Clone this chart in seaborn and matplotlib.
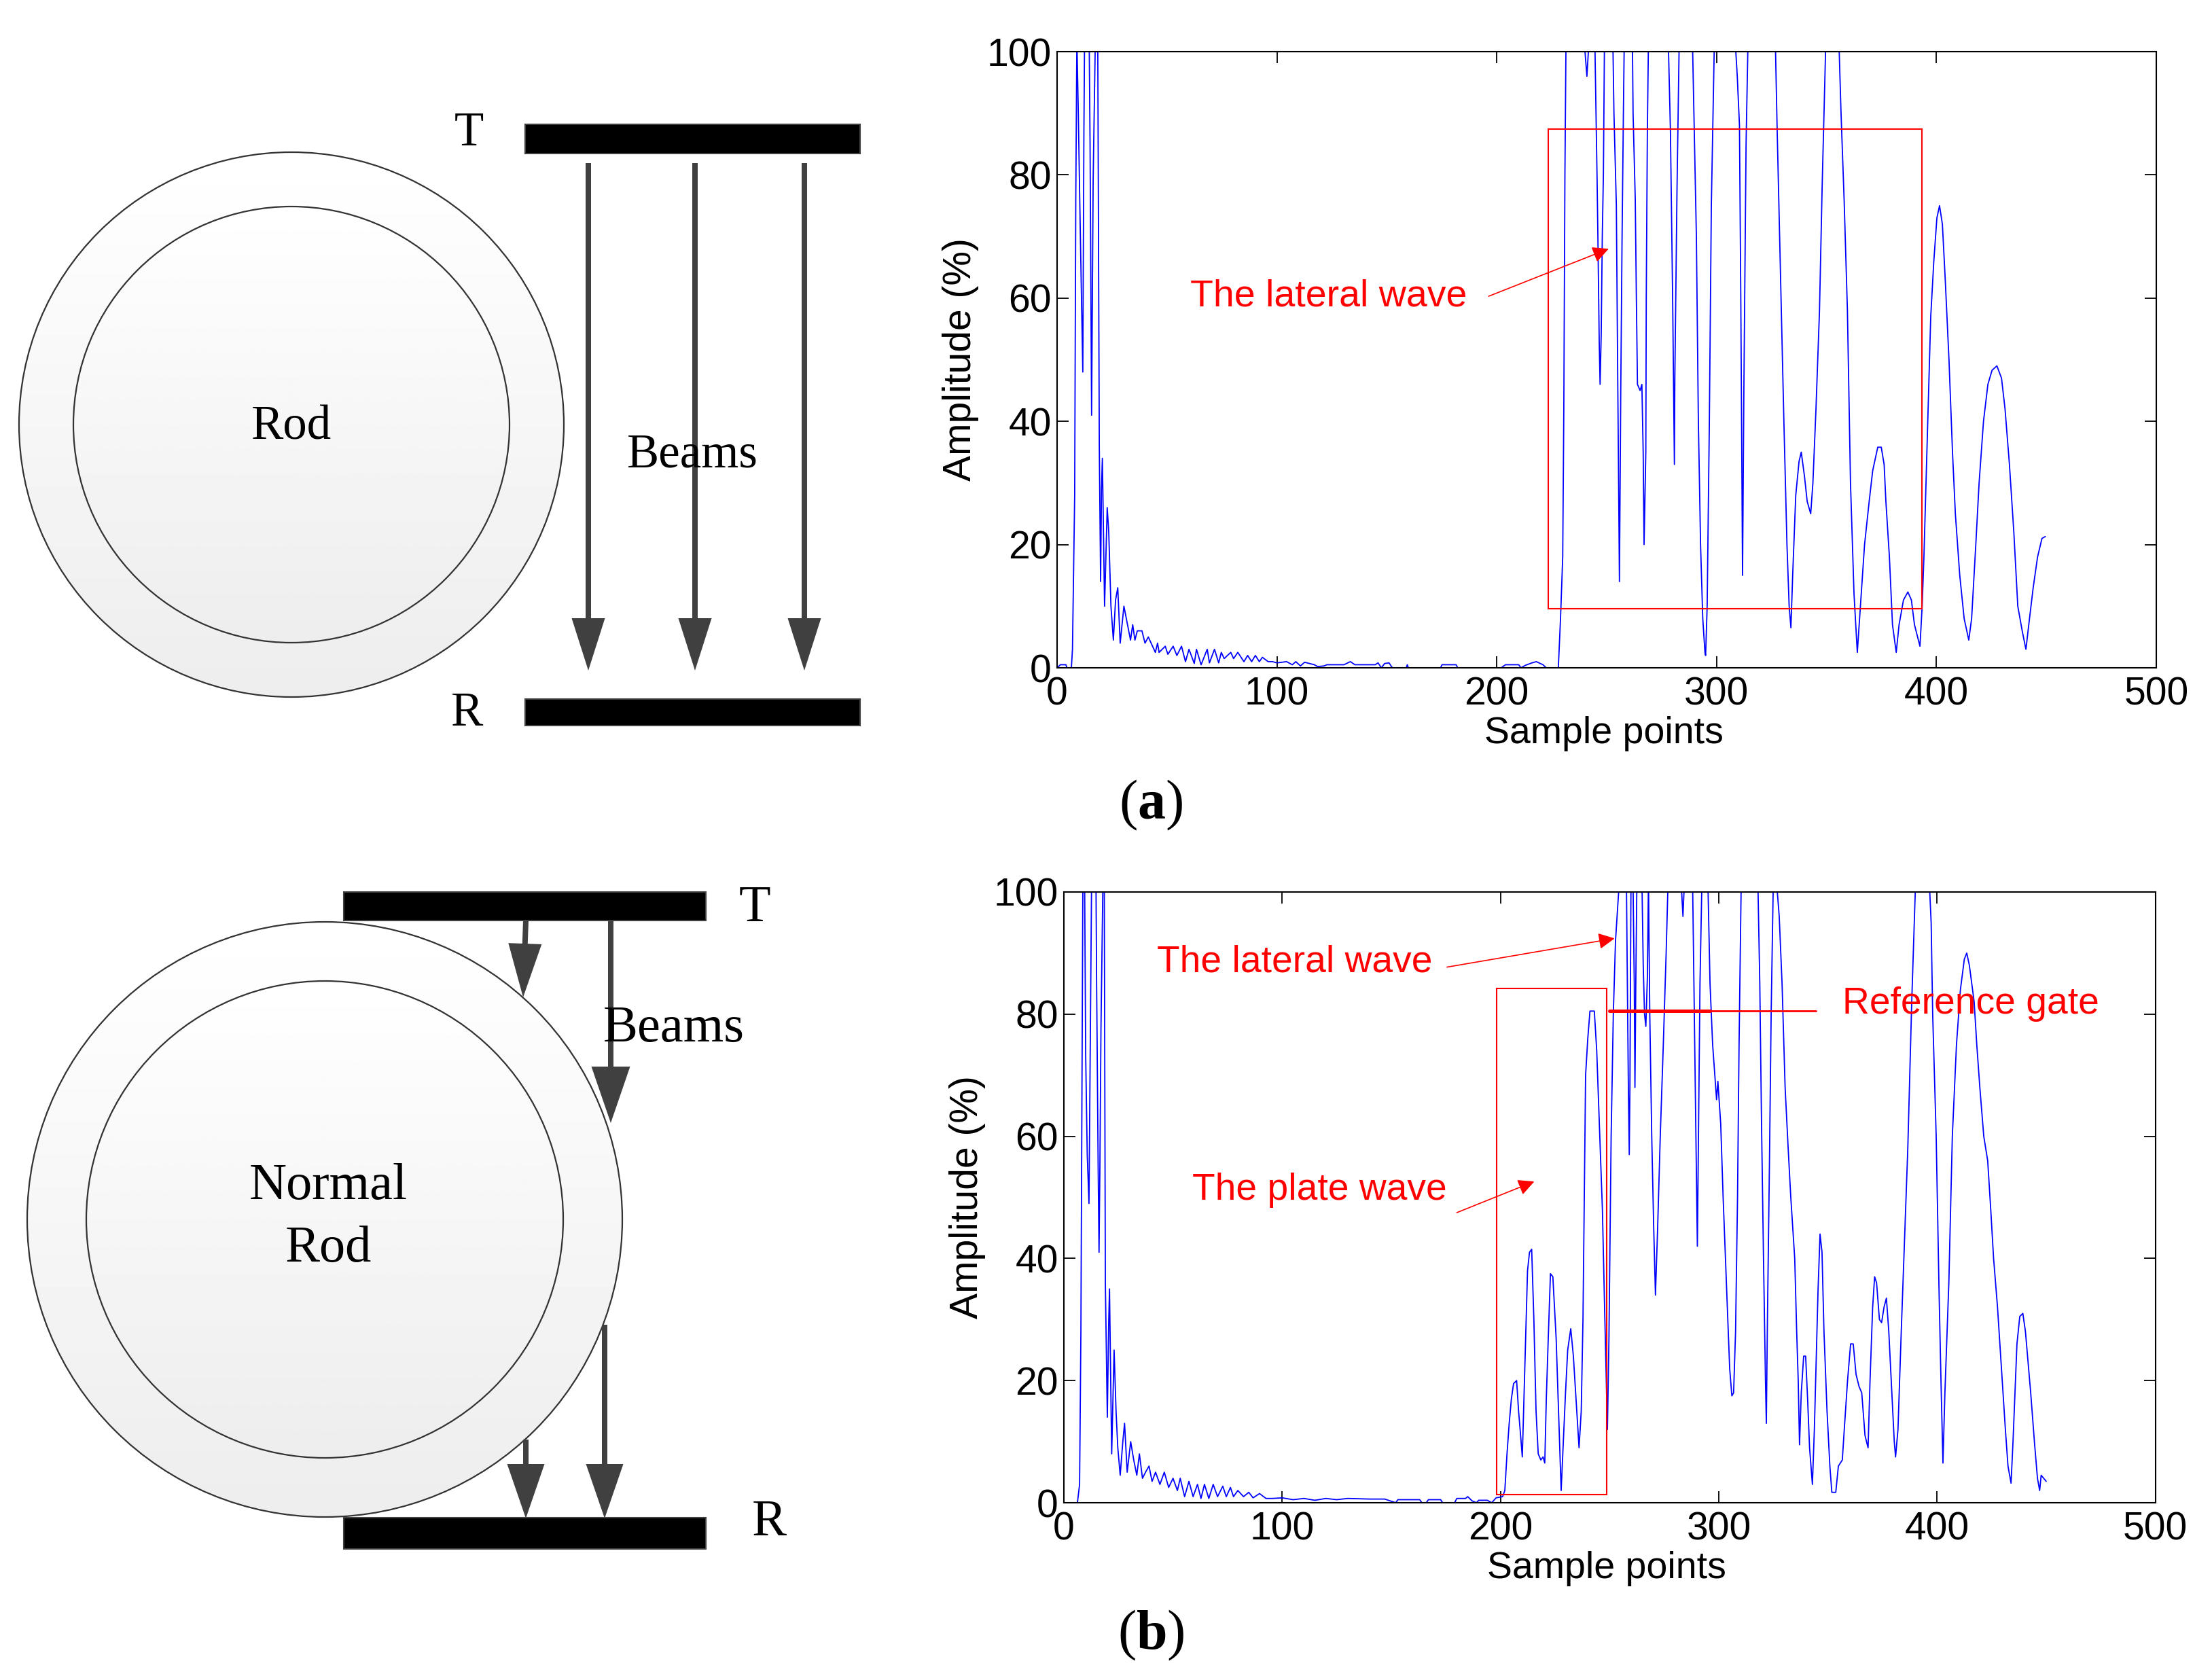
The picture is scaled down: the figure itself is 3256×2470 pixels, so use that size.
import matplotlib
matplotlib.use("Agg")
import matplotlib.pyplot as plt
from matplotlib.patches import Circle, Rectangle
import numpy as np
import seaborn as sns

W, H = 3256, 2470

# ---- chart (a): values, 102 = clipped above the axis ----
wave_a_x = [0, 1.5, 2.5, 4, 4.5, 6.5, 7, 8, 8.5, 9, 9.6, 10.5,
            11.7, 12.2, 12.5, 14.6, 15, 15.7, 16.4, 17.4, 18.5, 19.2, 19.8, 20.2,
            20.6, 21.6, 22.8, 23.5, 24.5, 25.6, 26.6, 27.6, 28.7, 30.4, 31.5, 33.4,
            34.4, 35.4, 36.5, 38.6, 40, 41.5, 44.7, 45.7, 46.4, 49.2, 50.4, 52.8,
            54.5, 56.6, 58.4, 60, 62.4, 63.4, 65.5, 68.3, 69.3, 71.6, 73.5, 74.7,
            76, 79, 80.3, 82.2, 85, 86.7, 88.5, 90.2, 92, 93.4, 96, 98,
            100, 104.4, 107, 108.6, 110.7, 112.6, 117, 118.5, 121.4, 122.8, 130.5, 133.4,
            135.5, 144.7, 146, 147.5, 149, 151, 152.5, 158.8, 159.3, 159.8, 174.4, 175.1,
            181.5, 182.2, 202, 204, 210, 211, 213, 216, 218, 221, 222.5, 228,
            229, 230, 230.5, 231, 231.5, 239.7, 241, 242, 244.6, 245.6, 246, 246.6,
            247, 247.5, 248, 248.5, 249, 252.8, 253.3, 254.4, 255, 255.8, 256.4, 257,
            257.6, 258, 261.7, 262, 263, 263.5, 264, 265.2, 266, 266.6, 267, 267.8,
            268, 268.5, 269, 278, 279, 280, 280.4, 280.8, 281, 282, 283, 289,
            289.8, 290.8, 291.7, 292.7, 293.7, 294.7, 295, 295.7, 296.7, 297.6, 299, 308.4,
            309.4, 310.4, 311, 311.8, 312.4, 313.4, 314.3, 326.7, 327.5, 329, 330.6, 332,
            333, 333.8, 334.6, 336, 337.5, 338.5, 340, 341.2, 342.8, 343.8, 345.2, 346.8,
            348, 349.7, 355.6, 356.6, 358, 359.5, 360.9, 362.5, 364, 365.4, 367.3, 369.4,
            371, 373.3, 374.9, 376.2, 377, 378.6, 380, 381.7, 383, 385, 387, 388.6,
            390, 392.5, 393.5, 394.3, 395.9, 397.4, 398.8, 400.2, 401.4, 402.7, 404, 405.7,
            407.3, 408.6, 410.6, 412.6, 414.7, 416, 417.9, 419.4, 421.4, 423.4, 425.3, 427.5,
            429.6, 431.2, 433.2, 435.2, 437, 439, 440.7, 442, 444, 446, 448, 449.5]
wave_a_y = [0, 0.5, 0.5, 0.5, 0, 0, 3, 28, 76, 102, 91, 72,
            48, 87, 102, 102, 85, 41, 79, 102, 102, 36, 14, 29,
            34, 10, 26, 22, 10, 4.5, 11, 13, 4, 10, 8, 4.5,
            7, 4.5, 6, 6, 4, 5, 2.5, 4, 2.5, 3.5, 2.2, 3.5,
            2, 3.5, 1, 3, 0.7, 3, 0.5, 3, 0.8, 3, 0.8, 2.5,
            1.5, 2.5, 1.5, 2.5, 1, 2, 1, 2, 1, 1.7, 1, 1,
            0.8, 1, 0.5, 1, 0.3, 0.9, 0.5, 0.2, 0.3, 0.5, 0.5, 1,
            0.5, 0.5, 0.8, 0, 0.7, 0.8, 0, 0, 0.5, 0, 0, 0.5,
            0.5, 0, 0, 0.5, 0.5, 0, 0.4, 0.8, 1, 0.5, 0, 0,
            8, 18, 42, 80, 102, 102, 96, 102, 102, 80, 70, 53,
            46, 54, 70, 80, 102, 102, 90, 75, 48, 14, 45, 70,
            90, 102, 102, 90, 76, 60, 46, 45, 46, 35, 20, 35,
            60, 87, 102, 102, 87, 60, 47, 33, 47, 78, 102, 102,
            88, 70, 40, 20, 8, 2.5, 2, 10, 40, 75, 102, 102,
            96, 88, 60, 15, 45, 85, 102, 102, 88, 65, 40, 20,
            10, 6.5, 15, 28, 33.5, 35, 31, 27, 25, 30, 42, 58,
            78, 102, 102, 90, 76, 58, 30, 12, 2.5, 10, 20, 27,
            32, 35.8, 35.8, 33, 27, 18, 7, 2.5, 7, 11, 12.3, 11,
            7, 3.5, 10, 18, 38, 57, 66, 73, 75, 72, 63, 50,
            35, 25, 15, 8, 4.5, 8, 20, 30, 40, 46, 48.3, 49,
            47, 42, 33, 22, 10, 6, 3, 7, 13, 18, 21, 21.3]

# ---- chart (b) ----
wave_b_x = [0, 6.2, 7.2, 7.8, 8.4, 8.7, 9.5, 10, 10.7, 11.5, 12.2, 12.7,
            14.7, 15, 15.7, 16.1, 16.5, 17, 17.9, 18.5, 19, 19.9, 20.5, 20.9,
            21.3, 21.9, 23, 23.9, 24.7, 25.8, 27, 27.8, 29, 30.6, 32, 33.4,
            34.6, 36, 37.4, 39, 40.4, 42, 44, 46, 48, 50, 52, 53.3,
            55.3, 57.3, 59.2, 61.2, 62.8, 64.4, 66.4, 68.4, 70.4, 72.8, 74.4, 76.3,
            77.7, 79.7, 82.3, 84.7, 86.7, 89.6, 92.6, 95.6, 100, 105, 110, 115,
            120, 125, 130, 140, 147, 152, 153, 163, 164, 166, 167, 172.6,
            173.5, 179, 180, 184, 185, 187, 189, 190, 194, 196, 198, 201,
            202, 203, 204, 205, 206, 207.4, 208.3, 209, 210, 210.6, 211.6, 212.4,
            213.3, 214.3, 215.3, 216.3, 217.3, 218.5, 219.5, 220.3, 221, 221.9, 222.9, 224,
            225.5, 226.8, 227.8, 228.8, 229.8, 230.8, 232.2, 233.4, 234.8, 236, 237, 237.8,
            238.4, 239, 240, 241, 243, 244.1, 245.3, 246.7, 247.7, 248.3, 249, 249.7,
            250.7, 251.7, 252.7, 254.5, 257.7, 258, 258.6, 259, 259.3, 259.8, 260.7, 261.3,
            261.6, 262, 262.5, 264.8, 265.4, 266, 266.6, 267.3, 267.8, 268.4, 269.3, 270.2,
            271, 272, 273.2, 274.6, 275.9, 276.8, 282.7, 283.6, 284.3, 288, 288.8, 289.5,
            290.2, 290.7, 291.4, 292.3, 295, 296, 297.2, 298.6, 299, 299.6, 300.9, 302,
            303.6, 305, 306, 306.8, 307.7, 308.6, 309.3, 310.3, 317.9, 318.8, 319.6, 320.5,
            321.4, 321.8, 322.3, 323.2, 324, 325, 326.4, 327.7, 329, 330.4, 331.8, 333,
            334.8, 335.7, 336.4, 337, 337.8, 338.9, 339.8, 340.7, 341.6, 342.9, 343.8, 344.7,
            345.5, 346.4, 347.3, 348.2, 349.6, 350.9, 351.8, 353.6, 354.8, 356.6, 357.5, 359,
            360.4, 361.6, 362.9, 364.3, 365.5, 367, 368.4, 369.3, 370.5, 371.4, 372.3, 373.6,
            374.6, 375.7, 376.8, 377.9, 379, 380.4, 381, 382.1, 383.6, 384.8, 386.6, 388.4,
            390.2, 391.4, 396.4, 397.3, 398, 399.6, 400.9, 401.8, 402.7, 403.6, 405.4, 407,
            408.9, 410.7, 412.5, 413.6, 414.8, 417, 418.2, 419.6, 421.4, 423.2, 424.6, 425.9,
            427.7, 429.5, 431.3, 432.5, 433.9, 434.8, 436.6, 437.9, 439.3, 440.5, 442.9, 444.6,
            446, 447, 447.7, 450]
wave_b_y = [0, 0, 3, 28, 76, 102, 102, 73, 57, 49, 80, 102,
            102, 85, 55, 41, 55, 78, 102, 102, 36, 14, 29, 35,
            24, 8, 25, 15, 9, 4.5, 10, 13, 5, 10, 7, 4.5,
            8, 4, 5, 6, 3.5, 5, 3, 5, 2.5, 4, 2, 4,
            1, 3.5, 1, 3, 0.7, 3, 0.7, 3, 1, 2.7, 1, 2.5,
            1, 2, 1, 1.7, 0.8, 1.5, 0.7, 0.7, 0.8, 0.5, 0.7, 0.4,
            0.7, 0.5, 0.7, 0.6, 0.6, 0, 0.5, 0.5, 0, 0, 0.5, 0.5,
            0, 0, 0.7, 0.7, 1, 0.3, 0, 0.4, 0.4, 0, 0.8, 1,
            2, 8, 13, 17, 19.5, 20, 15, 12, 7.5, 15, 28, 38,
            41, 41.5, 30, 15, 8, 7, 7.5, 6.5, 17, 27, 37.5, 37,
            27, 13, 2, 10, 18, 25, 28.5, 24, 16, 9, 15, 30,
            50, 70, 76, 80.5, 80.5, 74, 62, 48, 32, 23, 12, 27,
            60, 80, 92, 102, 102, 90, 68, 57, 68, 102, 102, 85,
            68, 85, 102, 102, 88, 80, 78, 86, 102, 80, 60, 45,
            34, 45, 60, 75, 90, 102, 102, 96, 102, 102, 80, 60,
            42, 60, 85, 102, 102, 85, 75, 68, 66, 69, 62, 50,
            35, 22, 17.5, 18, 28, 50, 75, 102, 102, 85, 62, 40,
            20, 13, 30, 55, 80, 102, 102, 96, 85, 68, 58, 50,
            40, 28, 20, 9.5, 18, 24, 24, 17, 9, 3, 12, 24,
            35, 44, 41, 28, 15, 6, 1.7, 1.7, 6, 7, 12, 20,
            26, 26, 21, 19, 18, 11, 9, 20, 32, 37, 36, 30,
            29.5, 32, 33.5, 28, 20, 10, 7.5, 12, 28, 40, 58, 82,
            102, 102, 102, 95, 80, 60, 35, 20, 6.5, 18, 36, 60,
            75, 84, 89, 90, 88, 82, 75, 68, 60, 56, 48, 40,
            32, 22, 12, 6, 3.2, 10, 26, 30.5, 31, 28, 18, 10,
            4, 2, 4.5, 3.5]

x_ticks = [0, 100, 200, 300, 400, 500]
y_ticks = [0, 20, 40, 60, 80, 100]

sns.set_theme(style="ticks", rc={"axes.edgecolor": "black", "xtick.color": "black",
                                 "ytick.color": "black", "text.color": "black",
                                 "axes.labelcolor": "black"})
plt.rcParams['font.family'] = ['Liberation Sans', 'DejaVu Sans']

fig = plt.figure(figsize=(W / 100, H / 100), dpi=100, facecolor='white')

# ==========================================
# Schematics, drawn in picture pixels
# ==========================================
sk = fig.add_axes([0, 0, 1, 1])
sk.set_xlim(0, W)
sk.set_ylim(H, 0)
sk.axis('off')

SERIF = 'Liberation Serif'


def rod_circle(cx, cy, r):
    shade = np.linspace(1.0, 0.93, 256).reshape(-1, 1)
    im = sk.imshow(shade, cmap='gray', vmin=0, vmax=1, aspect='auto', zorder=1,
                   extent=(cx - r, cx + r, cy + r, cy - r))
    ring = Circle((cx, cy), r, fc='none', ec='#333333', lw=1.6, zorder=2)
    sk.add_patch(ring)
    im.set_clip_path(ring)


def bar(x0, x1, y0, y1):
    sk.add_patch(Rectangle((x0, y0), x1 - x0, y1 - y0, fc='black', ec='#404040', lw=1.5, zorder=3))


def beam(x0, y0, x1, y1, head_len, head_w):
    sk.arrow(x0, y0, x1 - x0, y1 - y0, width=8, head_width=head_w, head_length=head_len,
             length_includes_head=True, fc='#404040', ec='#404040', lw=0, zorder=4)


def label(x, y, s, size):
    sk.text(x, y, s, family=SERIF, fontsize=size, ha='center', va='center', zorder=5)


# panel (a) rod
rod_circle(429, 625, 401)
rod_circle(429, 625, 321)
bar(773, 1266, 183, 226)
bar(773, 1266, 1029, 1068)
for bx in [866, 1023, 1184]:
    beam(bx, 240, bx, 987, 77, 49)
label(690, 197, 'T', 51)
label(688, 1051, 'R', 51)
label(429, 629, 'Rod', 51)
label(1019, 670, 'Beams', 51)

# panel (b) rod
rod_circle(478, 1795, 438)
rod_circle(478, 1795, 351)
bar(506, 1039, 1313, 1355)
bar(506, 1039, 2234, 2280)
beam(774, 1355, 770, 1468, 79, 49)
beam(899, 1355, 899, 1653, 83, 57)
beam(890, 1950, 890, 2235, 80, 55)
beam(774, 2119, 774, 2235, 80, 55)
label(1111, 1337, 'T', 55)
label(1132, 2241, 'R', 55)
label(992, 1515, 'Beams', 55)
label(483, 1746, 'Normal', 55)
label(483, 1838, 'Rod', 55)

plt.rcParams['mathtext.fontset'] = 'custom'
plt.rcParams['mathtext.bf'] = 'Liberation Serif:bold'
plt.rcParams['mathtext.rm'] = 'Liberation Serif'
label(1694, 1185, r'($\mathbf{a}$)', 59)
label(1694, 2407, r'($\mathbf{b}$)', 59)

sk.set_xlim(0, W)
sk.set_ylim(H, 0)


# ==========================================
# Amplitude charts
# ==========================================
def amplitude_axes(left, right, top, bottom, wave_x, wave_y):
    ax = fig.add_axes([left / W, 1 - bottom / H, (right - left) / W, (bottom - top) / H])
    sns.lineplot(x=wave_x, y=wave_y, ax=ax, color='#0000ff', linewidth=1.3,
                 estimator=None, sort=False)
    ax.set_xlim(0, 500)
    ax.set_ylim(0, 100)
    ax.set_xticks(x_ticks)
    ax.set_yticks(y_ticks)
    ax.tick_params(direction='in', top=True, right=True, length=12, width=1.3,
                   labelsize=41)
    ax.tick_params(axis='x', pad=9)
    ax.tick_params(axis='y', pad=6)
    ax.set_xlabel('Sample points', fontsize=40, labelpad=3, x=0.4975)
    ax.set_ylabel('Amplitude (%)', fontsize=41, labelpad=8)
    for spine in ax.spines.values():
        spine.set_linewidth(1.5)
    return ax


def red_box(ax, x0, x1, y0, y1):
    ax.add_patch(Rectangle((x0, y0), x1 - x0, y1 - y0, fc='none', ec='#ff0000', lw=1.5, zorder=3))


def red_note(ax, x, y, s, size=39.7):
    ax.text(x, y, s, color='#ff0000', fontsize=size, ha='left', va='center')


def red_arrow(ax, start, end):
    ax.annotate('', xy=end, xytext=start,
                arrowprops=dict(arrowstyle='-|>', color='#ff0000', lw=1.2, mutation_scale=36,
                                shrinkA=0, shrinkB=0))


ax_a = amplitude_axes(1556, 3174, 76, 983, wave_a_x, wave_a_y)
red_box(ax_a, 223.4, 393.3, 9.6, 87.4)
red_note(ax_a, 60.5, 60.3, 'The lateral wave', 40)
red_arrow(ax_a, (196.3, 60.3), (250.9, 68))

ax_b = amplitude_axes(1566, 3172.6, 1313, 2212, wave_b_x, wave_b_y)
red_box(ax_b, 198.2, 248.7, 1.3, 84.2)
red_note(ax_b, 42.5, 88.5, 'The lateral wave')
red_arrow(ax_b, (175.5, 87.7), (252.3, 92.4))
red_note(ax_b, 58.8, 51.2, 'The plate wave')
red_arrow(ax_b, (180, 47.5), (215.5, 52.6))
ax_b.plot([250, 296], [80.5, 80.5], color='#ff0000', lw=3.6)
ax_b.plot([296, 344.6], [80.5, 80.5], color='#ff0000', lw=2)
red_note(ax_b, 356.5, 81.7, 'Reference gate')

fig.savefig('out.png', dpi=100, facecolor='white')
